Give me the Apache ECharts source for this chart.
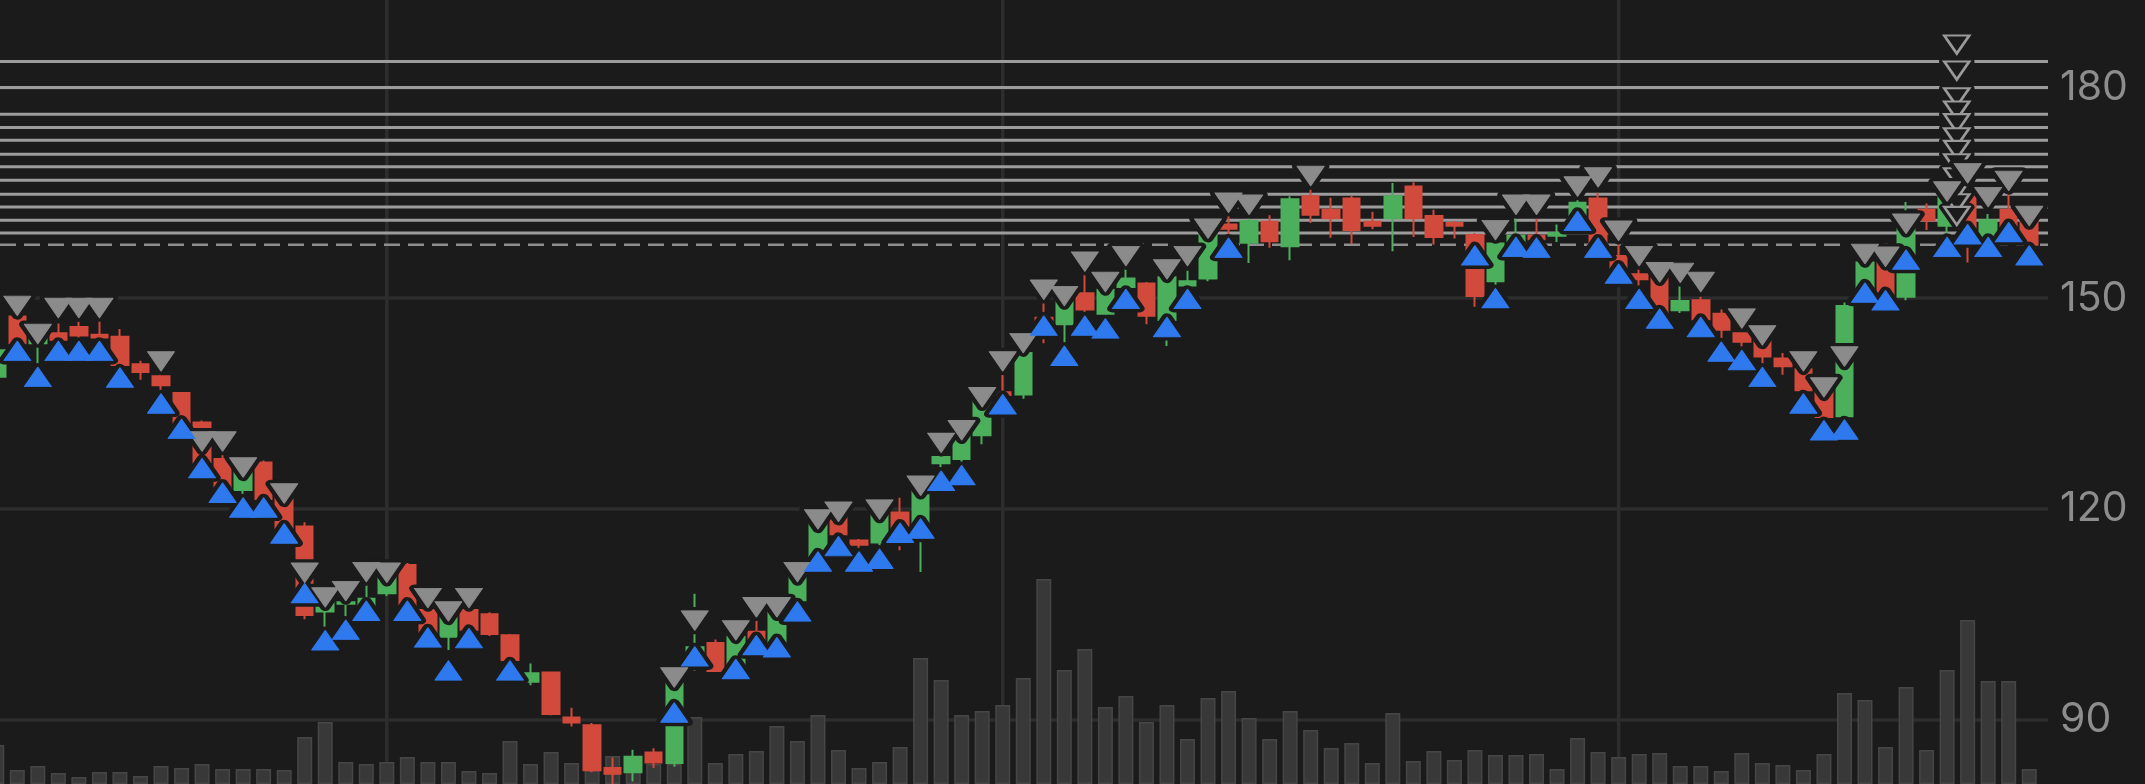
<!DOCTYPE html>
<html>
<head>
<meta charset="utf-8">
<script src="https://cdn.jsdelivr.net/npm/echarts@6/dist/echarts.min.js"></script>
<style>
html,body{margin:0;padding:0;background:#1b1b1b;}
#chart{width:2145px;height:784px;}
</style>
</head>
<body>
<div id="chart"></div>
<script>
// ---- data (bar -1 .. 98) ----
const opens  = [138.8,147.4,143.6,145.0,145.9,144.8,144.5,140.6,138.9,136.5,132.3,127.1,122.7,126.6,121.5,117.5,105.4,106.5,105.8,108.0,
                112.0,105.6,101.8,105.6,105.0,102.0,95.4,96.7,90.3,89.2,83.1,82.5,85.3,83.8,97.8,100.9,96.6,102.5,100.3,107.0,
                113.3,119.5,115.5,115.2,119.5,115.5,126.5,127.1,130.5,136.6,136.3,147.2,146.3,150.7,147.8,151.6,152.1,146.9,151.8,152.8,
                160.5,157.9,160.9,157.4,164.5,162.6,164.2,160.9,161.4,165.9,161.7,160.7,159.0,152.4,158.1,158.9,158.9,161.0,164.2,156.0,
                153.4,153.6,148.3,149.7,147.8,145.0,144.0,141.4,139.9,136.9,133.2,151.2,155.4,150.2,162.6,160.3,164.5,158.2,162.6,161.1];
const closes = [142.6,143.6,144.8,144.1,144.7,144.4,140.5,139.5,137.6,131.9,126.6,122.7,125.8,121.4,117.2,104.9,106.6,106.7,107.2,110.7,
                105.6,102.0,104.9,102.8,102.2,98.5,96.6,90.8,89.6,82.8,82.3,84.7,83.9,95.8,100.3,96.9,101.8,101.2,106.2,110.4,
                118.4,116.4,114.9,119.9,116.8,123.2,127.4,130.3,135.4,136.2,142.2,144.6,150.1,148.4,151.2,152.8,147.5,153.0,152.4,159.0,
                159.9,161.0,158.1,164.1,161.9,161.4,159.7,160.3,164.5,161.4,158.7,160.3,150.3,157.8,158.9,158.4,159.3,163.6,157.6,153.5,
                152.7,147.8,149.6,147.0,145.5,143.8,141.7,140.3,136.9,133.1,148.9,155.1,150.5,160.4,161.1,164.6,159.7,161.1,160.2,157.6];
const lows   = [138.3,143.3,140.3,143.6,144.0,143.6,140.1,138.4,136.5,131.5,126.3,122.3,121.5,121.0,116.8,104.3,102.8,103.5,105.5,107.6,
                105.3,101.7,99.9,102.2,101.9,97.8,94.9,90.6,89.0,82.5,80.5,81.2,83.1,83.3,97.0,96.8,96.5,100.8,100.0,106.0,
                112.7,115.5,113.9,114.4,114.1,111.0,125.3,126.2,129.2,135.5,135.7,143.6,143.1,147.4,146.9,150.8,146.3,143.2,150.5,152.4,
                158.6,155.0,157.2,155.4,160.7,158.6,157.7,159.8,156.7,158.7,157.6,158.5,148.8,151.2,157.5,157.5,158.0,160.5,157.0,153.0,
                151.2,147.0,147.9,146.5,144.2,142.5,140.2,139.1,136.0,132.4,132.7,150.5,149.5,149.7,159.7,158.0,155.1,157.5,159.5,156.5];
const highs  = [143.2,148.0,145.0,146.4,146.7,147.1,145.6,141.1,139.8,136.6,132.6,128.1,126.0,126.9,122.0,118.1,107.0,107.5,109.6,111.0,
                112.3,106.5,105.3,106.0,105.3,102.2,98.0,96.8,91.7,89.5,84.6,85.7,85.9,96.2,107.9,101.4,102.4,104.6,106.3,110.9,
                118.6,119.8,115.7,120.2,121.6,123.5,128.3,130.8,135.8,140.4,143.0,149.9,150.3,153.8,151.5,154.7,152.3,153.5,153.9,159.5,
                162.3,162.0,161.8,164.5,166.0,164.3,164.6,162.3,166.4,166.5,162.6,161.0,159.3,158.5,161.9,161.9,160.5,165.0,165.0,158.3,
                154.7,154.0,152.2,150.2,148.4,146.0,144.5,142.2,141.0,137.5,149.4,155.6,156.0,163.7,163.5,165.0,166.0,162.0,165.4,161.7];
// grey (down) and blue (up) signal markers, null = none
const grayMarks = [null,148.9,144.9,148.6,148.6,148.6,null,null,141.0,null,129.6,129.6,125.9,null,122.2,110.9,107.4,108.3,111.0,110.9,
                   null,107.3,105.4,107.3,null,null,null,null,null,null,null,null,null,96.0,104.1,null,102.7,106.0,106.0,111.0,
                   118.5,119.6,null,119.9,null,123.3,129.4,131.2,135.9,141.0,143.6,151.2,150.3,155.2,152.3,156.0,null,154.1,156.0,159.9,
                   163.6,163.3,null,null,167.4,null,null,null,null,null,null,null,null,159.7,163.3,163.3,null,165.9,167.2,159.6,
                   156.0,153.7,153.6,152.3,null,147.1,144.7,null,141.0,137.3,141.7,156.3,155.9,160.6,null,165.2,167.8,164.4,166.7,161.7];
const blueMarks = [null,142.5,138.8,142.5,142.5,142.5,138.7,null,135.0,131.4,125.8,122.3,120.2,120.2,116.5,108.0,101.3,102.8,105.5,null,
                   105.5,101.7,97.0,101.6,null,97.0,null,null,null,null,null,null,null,91.0,99.0,null,97.2,100.6,100.3,105.4,
                   112.5,114.7,112.5,112.9,116.6,117.2,124.0,124.8,null,134.9,null,146.1,141.8,146.1,145.7,149.9,null,145.9,149.9,null,
                   157.2,null,null,null,null,null,null,null,null,null,null,null,156.1,150.0,157.3,157.2,null,161.0,157.2,153.5,
                   149.9,147.1,null,145.9,142.4,141.2,138.8,null,135.0,131.2,131.3,150.8,149.7,155.5,null,157.3,159.1,157.3,159.4,156.1];
const volumes = [3.9,1.4,1.8,1.1,0.7,1.2,1.2,0.8,1.8,1.6,2.0,1.5,1.5,1.5,1.4,4.7,6.2,2.2,2.0,2.2,
                 2.7,2.2,2.2,1.3,1.1,4.3,2.0,3.2,2.1,1.4,2.8,2.0,2.0,2.0,6.7,2.1,3.0,3.3,5.8,4.3,
                 6.9,3.4,1.6,2.2,3.7,12.6,10.4,6.9,7.3,7.9,10.6,20.5,11.4,13.5,7.7,8.8,6.2,7.9,4.5,8.6,
                 9.3,6.6,4.5,7.3,5.4,3.6,4.1,2.1,7.1,2.3,3.3,2.4,3.4,2.9,2.9,3.0,1.5,4.6,3.2,2.7,
                 3.0,3.1,1.8,1.8,1.3,3.1,2.1,1.9,1.4,3.0,9.1,8.4,3.7,9.7,3.4,11.4,16.4,10.3,10.3,1.5];
const levels = [183.7,180.0,176.2,174.3,172.5,170.5,168.7,166.8,164.8,163.0,161.1,159.3];
const dashedLevel = 157.6;
const priceTicks = {min: 60, max: 210, interval: 30};
const verticalGridBars = [18, 48, 78];
const alertBar = 94.47;
const firstBar = -1;
const categories = opens.map((_, k) => 'B' + (k + firstBar));

// ---- styles ----
const BG = '#1b1b1b';
const UP = '#4caf5c';
const DOWN = '#d24a3b';
const GREY_MARK = '#8b8b8b';
const BLUE_MARK = '#2f79ee';
const LEVEL = '#9c9c9c';
const GRIDLINE = '#2d2d2d';
const VIEW_MIN = -0.8427, VIEW_MAX = 98.914;   // overlay x-range in bar units
const TRI = [27, 19.5];

const candleData = opens.map((o, k) => [o, closes[k], lows[k], highs[k]]);
const grayData = grayMarks.map((v, k) => [k, v]).filter(d => d[1] != null);
const blueData = blueMarks.map((v, k) => [k, v]).filter(d => d[1] != null);

const priceGrid = {left: -13.5, right: 105.5, top: -123.18, bottom: -146.27, outerBoundsMode: 'none', containLabel: false};
const volGrid = {left: -13.5, right: 105.5, top: 0, bottom: 0, outerBoundsMode: 'none', containLabel: false};
const overlayGrid = {left: 0, right: 97, top: -123.18, bottom: -146.27, outerBoundsMode: 'none', containLabel: false};

const series = [];
// vertical grid lines
verticalGridBars.forEach(b => series.push({
  type: 'line', xAxisIndex: 2, yAxisIndex: 2, z: 1, silent: true, symbol: 'none',
  data: [[b, priceTicks.min], [b, priceTicks.max]],
  lineStyle: {color: GRIDLINE, width: 3.5}
}));
// horizontal levels
levels.forEach(l => series.push({
  type: 'line', xAxisIndex: 2, yAxisIndex: 2, z: 1, silent: true, symbol: 'none',
  data: [[VIEW_MIN, l], [VIEW_MAX, l]],
  lineStyle: {color: LEVEL, width: 3}
}));
series.push({
  type: 'line', xAxisIndex: 2, yAxisIndex: 2, z: 1, silent: true, symbol: 'none',
  data: [[VIEW_MIN, dashedLevel], [VIEW_MAX, dashedLevel]],
  lineStyle: {color: '#8e8e8e', width: 2.5, type: [16, 8]}
});
// volume
series.push({
  type: 'bar', xAxisIndex: 1, yAxisIndex: 1, z: 2, barWidth: 15, silent: true,
  data: volumes,
  itemStyle: {color: '#383838', borderColor: '#464646', borderWidth: 1.5}
});
// candles
series.push({
  type: 'candlestick', xAxisIndex: 0, yAxisIndex: 0, z: 3, barWidth: 17, silent: true,
  data: candleData,
  itemStyle: {color: UP, color0: DOWN, borderColor: UP, borderColor0: DOWN, borderWidth: 2}
});
// alert stack (hollow triangles above each level)
const stackData = levels.map(l => [alertBar, l]);
series.push({
  type: 'scatter', xAxisIndex: 2, yAxisIndex: 2, z: 4, silent: true,
  symbol: 'triangle', symbolRotate: 180, symbolSize: [25, 18], symbolOffset: [0, -17],
  data: stackData,
  itemStyle: {color: BG, borderColor: BG, borderWidth: 9, borderJoin: 'round', opacity: 1}
});
series.push({
  type: 'scatter', xAxisIndex: 2, yAxisIndex: 2, z: 4, silent: true,
  symbol: 'triangle', symbolRotate: 180, symbolSize: [25, 18], symbolOffset: [0, -17],
  data: stackData,
  itemStyle: {color: BG, borderColor: '#9a9a9a', borderWidth: 2.5, opacity: 1}
});
// marker halos
series.push({
  type: 'scatter', xAxisIndex: 0, yAxisIndex: 0, z: 5, silent: true,
  symbol: 'triangle', symbolRotate: 180, symbolSize: TRI, data: grayData,
  itemStyle: {color: BG, borderColor: BG, borderWidth: 9, borderJoin: 'round', opacity: 1}
});
series.push({
  type: 'scatter', xAxisIndex: 0, yAxisIndex: 0, z: 5, silent: true,
  symbol: 'triangle', symbolSize: TRI, data: blueData,
  itemStyle: {color: BG, borderColor: BG, borderWidth: 9, borderJoin: 'round', opacity: 1}
});
// markers
series.push({
  type: 'scatter', xAxisIndex: 0, yAxisIndex: 0, z: 6, silent: true,
  symbol: 'triangle', symbolRotate: 180, symbolSize: TRI, data: grayData,
  itemStyle: {color: GREY_MARK, borderColor: GREY_MARK, borderWidth: 1, borderJoin: 'round', opacity: 1}
});
series.push({
  type: 'scatter', xAxisIndex: 0, yAxisIndex: 0, z: 6, silent: true,
  symbol: 'triangle', symbolSize: TRI, data: blueData,
  itemStyle: {color: BLUE_MARK, borderColor: BLUE_MARK, borderWidth: 1, borderJoin: 'round', opacity: 1}
});

const option = {
  backgroundColor: BG,
  animation: false,
  grid: [priceGrid, volGrid, overlayGrid],
  xAxis: [
    {type: 'category', gridIndex: 0, data: categories, boundaryGap: true, show: false},
    {type: 'category', gridIndex: 1, data: categories, boundaryGap: true, show: false},
    {type: 'value', gridIndex: 2, min: VIEW_MIN, max: VIEW_MAX, show: false}
  ],
  yAxis: [
    {type: 'value', gridIndex: 0, min: priceTicks.min, max: priceTicks.max, show: false},
    {type: 'value', gridIndex: 1, min: 0, max: 78.4, show: false},
    {type: 'value', gridIndex: 2, min: priceTicks.min, max: priceTicks.max, interval: priceTicks.interval,
     position: 'right', axisLine: {show: false}, axisTick: {show: false},
     axisLabel: {color: '#8d8d8d', fontSize: 41, margin: 12, fontFamily: 'Inter, Roboto, sans-serif'},
     splitLine: {show: true, lineStyle: {color: GRIDLINE, width: 3.5}}}
  ],
  series: series
};
const chart = echarts.init(document.getElementById('chart'), null, {renderer: 'canvas'});
chart.setOption(option);
</script>
</body>
</html>
